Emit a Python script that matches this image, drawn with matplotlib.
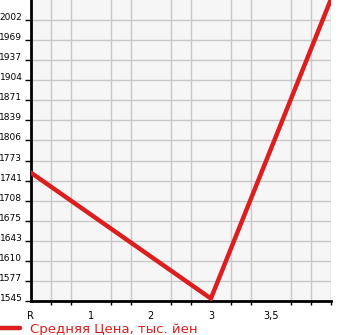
import numpy as np
import matplotlib
matplotlib.use("Agg")
import matplotlib.pyplot as plt

# data
x_labels = ["R", "1", "2", "3", "3,5"]
x_pos = [0, 3, 5]
prices = [1754, 1549, 2036]
y_labels = ["1545", "1577", "1610", "1643", "1675", "1708", "1741", "1773",
            "1806", "1839", "1871", "1904", "1937", "1969", "2002"]
series_name = "Средняя Цена, тыс. йен"

red = "#dc1e1e"

fig = plt.figure(figsize=(3.45, 3.35), dpi=100)
ax = fig.add_axes([30.7 / 345, 34 / 335, 300.3 / 345, 301 / 335])
ax.set_facecolor("#f6f6f6")

y_ticks = np.linspace(1545, 2002, len(y_labels))
y_step = y_ticks[1] - y_ticks[0]

ax.plot(x_pos, prices, color=red, linewidth=3.2, solid_capstyle="round",
        solid_joinstyle="miter", label=series_name, zorder=3, clip_on=True)

ax.set_xlim(0, 5)
ax.set_ylim(1545, 2002 + y_step)

ax.set_xticks(range(len(x_labels)))
ax.set_xticklabels(x_labels)
ax.set_xticks(np.arange(0, 5.01, 1 / 3), minor=True)
ax.set_yticks(y_ticks)
ax.set_yticklabels(y_labels)

ax.grid(True, which="minor", axis="x", color="#c8c8c8", linewidth=1.0)
ax.grid(True, which="major", axis="y", color="#c8c8c8", linewidth=1.0)
ax.set_axisbelow(True)

ax.tick_params(axis="x", which="both", direction="out", length=3, width=1,
               labelsize=7, pad=7)
ax.tick_params(axis="x", which="major", length=0)
ax.tick_params(axis="y", direction="out", length=4, width=1,
               labelsize=6.5, pad=2)
for lab in ax.get_yticklabels():
    lab.set_verticalalignment("baseline")

for side in ["top", "right"]:
    ax.spines[side].set_visible(False)
for side in ["left", "bottom"]:
    ax.spines[side].set_linewidth(2)
    ax.spines[side].set_color("black")

leg = fig.legend(loc="center left", bbox_to_anchor=(-0.01, 6 / 335),
                 frameon=False, fontsize=9.5, handlelength=1.8,
                 handletextpad=0.75, borderpad=0, borderaxespad=0)
for t in leg.get_texts():
    t.set_color(red)

fig.savefig("out.png", dpi=100)
